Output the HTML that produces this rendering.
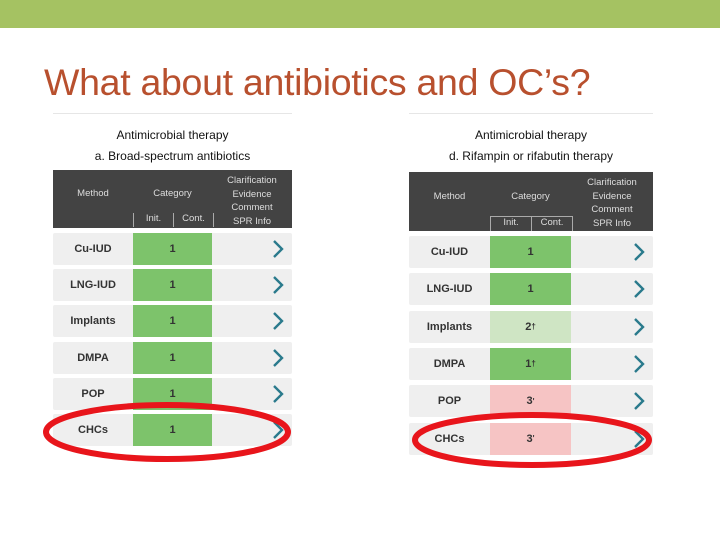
<!DOCTYPE html>
<html><head><meta charset="utf-8"><style>
body{margin:0;width:720px;height:540px;position:relative;background:#fff;font-family:"Liberation Sans",sans-serif;overflow:hidden}
.abs{position:absolute}
.hdr{background:#434343;color:#ddd;font-size:9.5px}
.row{background:#efefef;border-radius:2px}
.cell{position:absolute;top:0;height:100%;display:flex;align-items:center;justify-content:center;font-size:11px;color:#333;font-weight:bold}
.meth{position:absolute;top:0;height:100%;display:flex;align-items:center;justify-content:center;font-size:11px;color:#333;font-weight:bold}
.chev{position:absolute;top:50%;margin-top:-10px}
.t1{position:absolute;text-align:center;font-size:12px;color:#111}
</style></head><body>
<div class="abs" style="left:0;top:0;width:720px;height:28px;background:#a5c262"></div>
<div class="abs" style="left:44px;top:61px;font-size:37.5px;color:#b8502e;letter-spacing:-0.3px">What about antibiotics and OC’s?</div>
<div id="root"></div>
<svg class="abs" style="left:0;top:0" width="720" height="540">
<ellipse cx="167" cy="432" rx="121" ry="27" fill="none" stroke="#e8151b" stroke-width="6"/>
<ellipse cx="532" cy="440" rx="117" ry="25" fill="none" stroke="#e8151b" stroke-width="6"/>
</svg>
<script>
const methods=["Cu-IUD","LNG-IUD","Implants","DMPA","POP","CHCs"];
const leftCats=["1","1","1","1","1","1"];
const rightCats=["1","1","2","1","3","3"];
const rightSup=["","","†","†","'","'"];
const rightColors=["green","green","light","green","pink","pink"];
const colorMap={green:"#7dc36b",light:"#cfe5c4",pink:"#f6c4c4"};
const root=document.getElementById('root');
function table(cfg){
  const line=document.createElement('div');line.className='abs';
  line.style.cssText=`left:${cfg.x}px;top:${cfg.ty-15}px;width:${cfg.w}px;height:1px;background:#e6e6e6`;
  
  
  root.appendChild(line);
  const t=document.createElement('div');t.className='t1';
  t.style.cssText+=`left:${cfg.x}px;top:${cfg.ty}px;width:${cfg.w}px`;
  t.textContent='Antimicrobial therapy';
  
  
  root.appendChild(t);
  const s=document.createElement('div');s.className='t1';
  s.style.cssText+=`left:${cfg.x}px;top:${cfg.ty+21}px;width:${cfg.w}px`;
  s.textContent=cfg.sub;
  
  
  root.appendChild(s);
  const h=document.createElement('div');h.className='abs hdr';
  h.style.cssText+=`left:${cfg.x}px;top:${cfg.hy}px;width:${cfg.w}px;height:${cfg.hh}px`;
  
  
  const cx=cfg.cx-cfg.x, cw=cfg.cw;
  h.innerHTML=`<div class="abs" style="left:0;width:${cx}px;top:${cfg.hh/2-11}px;text-align:center">Method</div>
  <div class="abs" style="left:${cx}px;width:${cw}px;top:${cfg.hh/2-11}px;text-align:center">Category</div>
  <div class="abs" style="left:${cx}px;width:${cw}px;top:${cfg.hh-15}px;height:14px;border-left:1px solid #aaa;border-right:1px solid #aaa;${cfg.box?'border-top:1px solid #aaa;':''}display:flex"><span style="flex:1;text-align:center;border-right:1px solid #aaa">Init.</span><span style="flex:1;text-align:center">Cont.</span></div>
  <div class="abs" style="left:${cx+cw}px;right:0;top:4px;text-align:center;line-height:13.5px">Clarification<br>Evidence<br>Comment<br>SPR Info</div>`;
  root.appendChild(h);
  methods.forEach((m,i)=>{
    const r=document.createElement('div');r.className='abs row';
    r.style.cssText+=`left:${cfg.x}px;top:${cfg.ry+i*cfg.rs}px;width:${cfg.w}px;height:${cfg.rh}px`;
    
    
    const col=colorMap[cfg.colors[i]];
    const sup=cfg.sup[i]?`<sup style="font-size:8px">${cfg.sup[i]}</sup>`:'';
    r.innerHTML=`<div class="meth" style="left:0;width:${cx}px">${m}</div>
    <div class="cell" style="left:${cx}px;width:${cw}px;background:${col}">${cfg.cats[i]}${sup}</div>
    <svg class="chev" style="left:${cfg.w-20}px" width="12" height="20"><polyline points="2,2 10,10 2,18" fill="none" stroke="#2a7a8c" stroke-width="2.4"/></svg>`;
    root.appendChild(r);
  });
}
table({x:53,w:239,ty:128,sub:'a. Broad-spectrum antibiotics',hy:170,hh:58,cx:133,cw:79,ry:233,rs:36.2,rh:32,cats:leftCats,sup:["","","","","",""],colors:["green","green","green","green","green","green"],box:false});
table({x:409,w:244,ty:128,sub:'d. Rifampin or rifabutin therapy',hy:172,hh:59,cx:490,cw:81,ry:236,rs:37.3,rh:32,cats:rightCats,sup:rightSup,colors:rightColors,box:true});
</script>
</body></html>
